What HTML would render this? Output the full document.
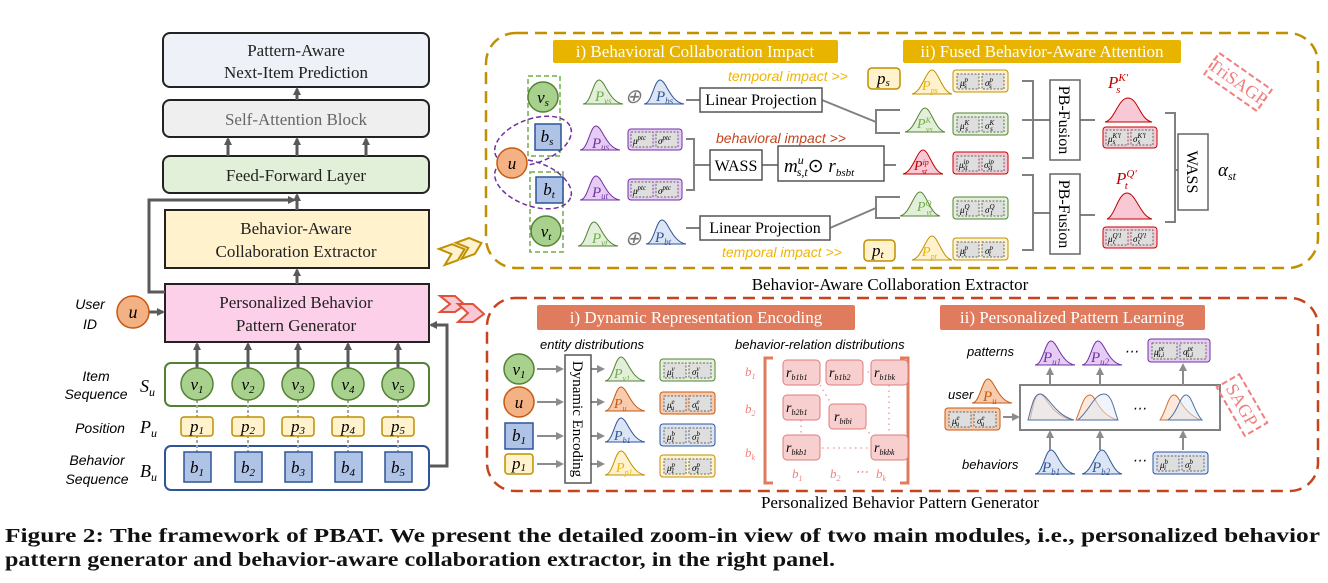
<!DOCTYPE html>
<html><head><meta charset="utf-8"><style>
html,body{margin:0;padding:0;background:#fff;}
svg{display:block;}
.s{font-family:"Liberation Serif",serif;}
.m{font-family:"Liberation Serif",serif;font-style:italic;}
.i{font-family:"Liberation Sans",sans-serif;font-style:italic;}
</style></head><body>
<svg width="1328" height="583" viewBox="0 0 1328 583" xmlns="http://www.w3.org/2000/svg">
<defs>
<marker id="ah" markerWidth="8" markerHeight="8" refX="6" refY="4" orient="auto" markerUnits="userSpaceOnUse"><path d="M0,0 L8,4 L0,8 Z" fill="#595959"/></marker>
<marker id="ag" markerWidth="8" markerHeight="8" refX="6" refY="4" orient="auto" markerUnits="userSpaceOnUse"><path d="M0,0 L8,4 L0,8 Z" fill="#8c8c8c"/></marker>
<path id="cv" d="M0,24 C8,24 10,0 16,0 C22,0 26,22 40,24 Z"/>
<path id="cw" d="M0,24 C10,22 14,0 20,0 C26,0 30,22 40,24 Z"/>
</defs>

<!-- ===== LEFT PANEL ===== -->
<g class="s" font-size="17" text-anchor="middle" fill="#222">
<rect x="163" y="33" width="266" height="54" rx="7" fill="#eef1f8" stroke="#222" stroke-width="2"/>
<text x="296" y="56">Pattern-Aware</text><text x="296" y="78">Next-Item Prediction</text>
<rect x="163" y="100" width="266" height="37" rx="7" fill="#efefef" stroke="#222" stroke-width="2"/>
<text x="296" y="125" fill="#666">Self-Attention Block</text>
<rect x="163" y="156" width="266" height="37" rx="7" fill="#e2f0d9" stroke="#222" stroke-width="2"/>
<text x="296" y="181">Feed-Forward Layer</text>
<rect x="165" y="210" width="264" height="58" fill="#fff2cc" stroke="#222" stroke-width="2"/>
<text x="296" y="234">Behavior-Aware</text><text x="296" y="257">Collaboration Extractor</text>
<rect x="165" y="284" width="264" height="58" fill="#fdd0ea" stroke="#222" stroke-width="2"/>
<text x="296" y="308">Personalized Behavior</text><text x="296" y="331">Pattern Generator</text>
</g>
<g stroke="#595959" stroke-width="3" fill="none" marker-end="url(#ah)">
<line x1="297" y1="100" x2="297" y2="89"/>
<line x1="228" y1="156" x2="228" y2="139"/><line x1="297" y1="156" x2="297" y2="139"/><line x1="366" y1="156" x2="366" y2="139"/>
<line x1="297" y1="210" x2="297" y2="195"/>
<line x1="297" y1="284" x2="297" y2="270"/>
<polyline points="165,292 149,292 149,200 294,200"/>
<line x1="149" y1="312" x2="163" y2="312"/>
<polyline points="429,466 447,466 447,325 431,325"/>
</g>
<text class="i" font-size="14" x="90" y="309" text-anchor="middle">User</text>
<text class="i" font-size="14" x="90" y="329" text-anchor="middle">ID</text>
<circle cx="133" cy="312" r="16" fill="#f4b183" stroke="#c55a11" stroke-width="1.5"/>
<text class="m" font-size="18" x="133" y="318" text-anchor="middle">u</text>

<text class="i" font-size="14" x="96" y="381" text-anchor="middle">Item</text>
<text class="i" font-size="14" x="96" y="399" text-anchor="middle">Sequence</text>
<text class="m" font-size="18" x="140" y="392">S<tspan font-size="12" dy="4">u</tspan></text>
<text class="i" font-size="14" x="100" y="433" text-anchor="middle">Position</text>
<text class="m" font-size="18" x="140" y="433">P<tspan font-size="12" dy="4">u</tspan></text>
<text class="i" font-size="14" x="97" y="465" text-anchor="middle">Behavior</text>
<text class="i" font-size="14" x="97" y="484" text-anchor="middle">Sequence</text>
<text class="m" font-size="18" x="140" y="477">B<tspan font-size="12" dy="4">u</tspan></text>

<rect x="165" y="363" width="264" height="43" rx="6" fill="#fff" stroke="#548235" stroke-width="2"/>
<rect x="165" y="446" width="264" height="44" rx="6" fill="#fff" stroke="#2f5597" stroke-width="2"/>
<g stroke="#595959" stroke-width="3" marker-end="url(#ah)">
<line x1="197" y1="368" x2="197" y2="344"/><line x1="248" y1="368" x2="248" y2="344"/><line x1="298" y1="368" x2="298" y2="344"/><line x1="348" y1="368" x2="348" y2="344"/><line x1="398" y1="368" x2="398" y2="344"/>
</g>
<g stroke="#a6a6a6" stroke-width="2" stroke-dasharray="3,2">
<line x1="197" y1="400" x2="197" y2="452"/><line x1="248" y1="400" x2="248" y2="452"/><line x1="298" y1="400" x2="298" y2="452"/><line x1="348" y1="400" x2="348" y2="452"/><line x1="398" y1="400" x2="398" y2="452"/>
</g>
<g class="m" font-size="17" text-anchor="middle">
<g fill="#a9d18e" stroke="#548235" stroke-width="1.5">
<circle cx="197" cy="384" r="16"/><circle cx="248" cy="384" r="16"/><circle cx="298" cy="384" r="16"/><circle cx="348" cy="384" r="16"/><circle cx="398" cy="384" r="16"/>
</g>
<text x="197" y="390">v<tspan font-size="11" dy="3">1</tspan></text><text x="248" y="390">v<tspan font-size="11" dy="3">2</tspan></text><text x="298" y="390">v<tspan font-size="11" dy="3">3</tspan></text><text x="348" y="390">v<tspan font-size="11" dy="3">4</tspan></text><text x="398" y="390">v<tspan font-size="11" dy="3">5</tspan></text>
<g fill="#fff2cc" stroke="#bf9000" stroke-width="1.5">
<rect x="181" y="417" width="32" height="19" rx="3"/><rect x="232" y="417" width="32" height="19" rx="3"/><rect x="282" y="417" width="32" height="19" rx="3"/><rect x="332" y="417" width="32" height="19" rx="3"/><rect x="382" y="417" width="32" height="19" rx="3"/>
</g>
<text x="197" y="432">p<tspan font-size="11" dy="2">1</tspan></text><text x="248" y="432">p<tspan font-size="11" dy="2">2</tspan></text><text x="298" y="432">p<tspan font-size="11" dy="2">3</tspan></text><text x="348" y="432">p<tspan font-size="11" dy="2">4</tspan></text><text x="398" y="432">p<tspan font-size="11" dy="2">5</tspan></text>
<g fill="#aec3e6" stroke="#2f5597" stroke-width="1.5">
<rect x="184" y="452" width="27" height="30"/><rect x="235" y="452" width="27" height="30"/><rect x="285" y="452" width="27" height="30"/><rect x="335" y="452" width="27" height="30"/><rect x="385" y="452" width="27" height="30"/>
</g>
<text x="197" y="473">b<tspan font-size="11" dy="3">1</tspan></text><text x="248" y="473">b<tspan font-size="11" dy="3">2</tspan></text><text x="298" y="473">b<tspan font-size="11" dy="3">3</tspan></text><text x="348" y="473">b<tspan font-size="11" dy="3">4</tspan></text><text x="398" y="473">b<tspan font-size="11" dy="3">5</tspan></text>
</g>

<!-- chevrons -->
<g fill="#fff2cc" stroke="#bf9000" stroke-width="2" transform="rotate(-20 462 248)">
<path d="M440,241 L454,241 L464,250 L454,258 L440,258 L450,250 Z"/>
<path d="M458,241 L472,241 L482,250 L472,258 L458,258 L468,250 Z"/>
</g>
<g fill="#f8c8d4" stroke="#e0523a" stroke-width="2">
<path d="M440,296 L455,296 L465,305 L455,312 L440,312 L450,304 Z"/>
<path d="M458,304 L473,304 L484,314 L473,322 L458,322 L468,313 Z"/>
</g>

<!-- ===== TOP RIGHT PANEL ===== -->
<rect x="486" y="33" width="832" height="235" rx="30" fill="none" stroke="#bf9000" stroke-width="2.5" stroke-dasharray="12,7"/>
<rect x="553" y="40" width="285" height="23" rx="2" fill="#e8b400"/>
<text class="s" font-size="17" fill="#fff" x="695" y="57" text-anchor="middle">i) Behavioral Collaboration Impact</text>
<rect x="903" y="40" width="278" height="23" rx="2" fill="#e8b400"/>
<text class="s" font-size="17" fill="#fff" x="1042" y="57" text-anchor="middle">ii) Fused Behavior-Aware Attention</text>
<text class="s" font-size="17" x="890" y="290" text-anchor="middle">Behavior-Aware Collaboration Extractor</text>

<rect x="528" y="76" width="32" height="80" fill="none" stroke="#70ad47" stroke-width="1.5" stroke-dasharray="5,3"/>
<rect x="530" y="172" width="33" height="80" fill="none" stroke="#70ad47" stroke-width="1.5" stroke-dasharray="5,3"/>
<ellipse cx="533" cy="141" rx="40" ry="22" transform="rotate(-20 533 141)" fill="none" stroke="#7030a0" stroke-width="1.5" stroke-dasharray="5,3"/>
<ellipse cx="533" cy="184" rx="40" ry="22" transform="rotate(20 533 184)" fill="none" stroke="#7030a0" stroke-width="1.5" stroke-dasharray="5,3"/>
<g class="m" font-size="17" text-anchor="middle">
<circle cx="543" cy="97" r="15" fill="#a9d18e" stroke="#548235" stroke-width="1.5"/><text x="543" y="103">v<tspan font-size="11" dy="3">s</tspan></text>
<rect x="535" y="124" width="26" height="26" fill="#aec3e6" stroke="#2f5597" stroke-width="1.5"/><text x="547" y="142">b<tspan font-size="11" dy="3">s</tspan></text>
<rect x="536" y="177" width="27" height="26" fill="#aec3e6" stroke="#2f5597" stroke-width="1.5"/><text x="549" y="195">b<tspan font-size="11" dy="3">t</tspan></text>
<circle cx="546" cy="231" r="15" fill="#a9d18e" stroke="#548235" stroke-width="1.5"/><text x="546" y="237">v<tspan font-size="11" dy="3">t</tspan></text>
<circle cx="512" cy="163" r="15" fill="#f4b183" stroke="#c55a11" stroke-width="1.5"/><text x="512" y="169">u</text>
</g>
<g class="m" font-size="15">
<use href="#cv" x="583" y="80" fill="#e2f0d9" stroke="#548235"/><text x="595" y="101" fill="#70ad47">P<tspan font-size="9" dy="3">vs</tspan></text>
<text x="633" y="103" class="s" font-size="20" fill="#777" text-anchor="middle">⊕</text>
<use href="#cv" x="644" y="80" fill="#dbe5f5" stroke="#2f5597"/><text x="656" y="101" fill="#2f5597">P<tspan font-size="9" dy="3">bs</tspan></text>
<use href="#cv" x="580" y="126" fill="#e6ccf5" stroke="#7030a0"/><text x="592" y="148" fill="#7030a0">P<tspan font-size="9" dy="2">us</tspan></text>
<use href="#cv" x="580" y="176" fill="#e6ccf5" stroke="#7030a0"/><text x="592" y="197" fill="#7030a0">P<tspan font-size="9" dy="2">ut</tspan></text>
<use href="#cv" x="578" y="222" fill="#e2f0d9" stroke="#548235"/><text x="592" y="243" fill="#70ad47">P<tspan font-size="9" dy="3">vt</tspan></text>
<text x="633" y="245" class="s" font-size="20" fill="#777" text-anchor="middle">⊕</text>
<use href="#cv" x="646" y="220" fill="#dbe5f5" stroke="#2f5597"/><text x="655" y="242" fill="#2f5597">P<tspan font-size="9" dy="3">bt</tspan></text>
</g>
<g font-size="9" class="m">
<g fill="#e6ccf5" stroke="#7030a0"><rect x="628" y="129" width="54" height="21" rx="3"/><rect x="628" y="179" width="54" height="21" rx="3"/></g>
<g fill="#dedede" stroke="#666" stroke-dasharray="2,1.5"><rect x="631" y="132" width="22" height="15"/><rect x="656" y="132" width="22" height="15"/><rect x="631" y="182" width="22" height="15"/><rect x="656" y="182" width="22" height="15"/></g>
<text x="633" y="144">μ<tspan font-size="7" dy="-4">ptc</tspan></text><text x="658" y="144">σ<tspan font-size="7" dy="-4">ptc</tspan></text>
<text x="633" y="194">μ<tspan font-size="7" dy="-4">ptc</tspan></text><text x="658" y="194">σ<tspan font-size="7" dy="-4">ptc</tspan></text>
</g>
<g stroke="#808080" stroke-width="2" fill="none">
<line x1="686" y1="100" x2="700" y2="100"/>
<polyline points="686,139 694,139 694,190 686,190"/><line x1="694" y1="165" x2="710" y2="165"/>
<line x1="762" y1="165" x2="778" y2="165"/><line x1="884" y1="165" x2="896" y2="165"/>
<line x1="686" y1="228" x2="700" y2="228"/>
<line x1="822" y1="100" x2="876" y2="122"/><polyline points="900,110 876,110 876,133 900,133"/>
<line x1="830" y1="228" x2="876" y2="208"/><polyline points="900,197 876,197 876,218 900,218"/>
</g>
<g stroke="#555" stroke-width="1.5" fill="#fff">
<rect x="700" y="88" width="122" height="24"/><rect x="700" y="216" width="130" height="24"/>
<rect x="710" y="150" width="52" height="30"/><rect x="778" y="146" width="106" height="35"/>
</g>
<g class="s" font-size="16" text-anchor="middle"><text x="761" y="105">Linear Projection</text><text x="765" y="233">Linear Projection</text><text x="736" y="171">WASS</text></g>
<text class="m" font-size="19" x="784" y="172">m<tspan font-size="12" dy="-8">u</tspan><tspan font-size="12" dx="-7" dy="12">s,t</tspan><tspan class="s" font-style="normal" dy="-4">⊙</tspan> r<tspan font-size="11" dy="4">bsbt</tspan></text>
<text class="i" font-size="14" fill="#f0b400" x="728" y="81">temporal impact &gt;&gt;</text>
<text class="i" font-size="14" fill="#c5441d" x="716" y="143">behavioral impact &gt;&gt;</text>
<text class="i" font-size="14" fill="#f0b400" x="722" y="257">temporal impact &gt;&gt;</text>
<rect x="868" y="68" width="32" height="21" rx="4" fill="#fff2cc" stroke="#bf9000" stroke-width="1.5"/>
<text class="m" font-size="17" x="877" y="84">p<tspan font-size="11" dy="2">s</tspan></text>
<rect x="864" y="240" width="31" height="21" rx="4" fill="#fff2cc" stroke="#bf9000" stroke-width="1.5"/>
<text class="m" font-size="17" x="872" y="256">p<tspan font-size="11" dy="2">t</tspan></text>

<g class="m" font-size="14">
<use href="#cw" x="912" y="70" fill="#fff2cc" stroke="#bf9000"/><text x="922" y="90" fill="#f0b400">P<tspan font-size="8" dy="3">ps</tspan></text>
<use href="#cw" x="905" y="108" fill="#e2f0d9" stroke="#548235"/><text x="917" y="128" fill="#70ad47">P<tspan font-size="8" dy="-5">K</tspan><tspan font-size="8" dx="-5" dy="9">vs</tspan></text>
<use href="#cw" x="903" y="150" fill="#f8c8d4" stroke="#c00000"/><text x="914" y="170" fill="#c00000">P<tspan font-size="8" dy="-5">ip</tspan><tspan font-size="8" dx="-7" dy="9">st</tspan></text>
<use href="#cw" x="900" y="192" fill="#e2f0d9" stroke="#548235"/><text x="917" y="211" fill="#70ad47">P<tspan font-size="8" dy="-5">Q</tspan><tspan font-size="8" dx="-5" dy="9">vt</tspan></text>
<use href="#cw" x="912" y="236" fill="#fff2cc" stroke="#bf9000"/><text x="922" y="256" fill="#f0b400">P<tspan font-size="8" dy="3">pt</tspan></text>
</g>
<g class="m" font-size="9">
<rect x="953" y="70" width="55" height="22" rx="3" fill="#fff2cc" stroke="#bf9000"/>
<rect x="953" y="113" width="55" height="22" rx="3" fill="#e2f0d9" stroke="#548235"/>
<rect x="953" y="152" width="55" height="22" rx="3" fill="#f8c8d4" stroke="#c00000"/>
<rect x="953" y="197" width="55" height="22" rx="3" fill="#e2f0d9" stroke="#548235"/>
<rect x="953" y="238" width="55" height="22" rx="3" fill="#fff2cc" stroke="#bf9000"/>
<rect x="1103" y="127" width="54" height="21" rx="3" fill="#f8c8d4" stroke="#c00000"/>
<rect x="1103" y="227" width="54" height="21" rx="3" fill="#f8c8d4" stroke="#c00000"/>
<g fill="#dedede" stroke="#666" stroke-dasharray="2,1.5">
<rect x="957" y="74" width="22" height="15"/><rect x="982" y="74" width="22" height="15"/>
<rect x="957" y="117" width="22" height="15"/><rect x="982" y="117" width="22" height="15"/>
<rect x="957" y="156" width="22" height="15"/><rect x="982" y="156" width="22" height="15"/>
<rect x="957" y="201" width="22" height="15"/><rect x="982" y="201" width="22" height="15"/>
<rect x="957" y="242" width="22" height="15"/><rect x="982" y="242" width="22" height="15"/>
<rect x="1106" y="130" width="22" height="15"/><rect x="1131" y="130" width="22" height="15"/>
<rect x="1106" y="230" width="22" height="15"/><rect x="1131" y="230" width="22" height="15"/>
</g>
<text x="960" y="86">μ<tspan font-size="7" dy="-4">p</tspan><tspan font-size="7" dx="-4" dy="6">s</tspan></text><text x="985" y="86">σ<tspan font-size="7" dy="-4">p</tspan><tspan font-size="7" dx="-4" dy="6">s</tspan></text>
<text x="960" y="129">μ<tspan font-size="7" dy="-4">K</tspan><tspan font-size="7" dx="-4" dy="6">s</tspan></text><text x="985" y="129">σ<tspan font-size="7" dy="-4">K</tspan><tspan font-size="7" dx="-4" dy="6">s</tspan></text>
<text x="959" y="168">μ<tspan font-size="7" dy="-4">ip</tspan><tspan font-size="7" dx="-6" dy="6">st</tspan></text><text x="984" y="168">σ<tspan font-size="7" dy="-4">ip</tspan><tspan font-size="7" dx="-6" dy="6">st</tspan></text>
<text x="960" y="213">μ<tspan font-size="7" dy="-4">Q</tspan><tspan font-size="7" dx="-4" dy="6">t</tspan></text><text x="985" y="213">σ<tspan font-size="7" dy="-4">Q</tspan><tspan font-size="7" dx="-4" dy="6">t</tspan></text>
<text x="960" y="254">μ<tspan font-size="7" dy="-4">p</tspan><tspan font-size="7" dx="-4" dy="6">t</tspan></text><text x="985" y="254">σ<tspan font-size="7" dy="-4">p</tspan><tspan font-size="7" dx="-4" dy="6">t</tspan></text>
<text x="1108" y="142">μ<tspan font-size="7" dy="-4">K'l</tspan><tspan font-size="7" dx="-8" dy="6">s</tspan></text><text x="1133" y="142">σ<tspan font-size="7" dy="-4">K'l</tspan><tspan font-size="7" dx="-8" dy="6">s</tspan></text>
<text x="1108" y="242">μ<tspan font-size="7" dy="-4">Q'l</tspan><tspan font-size="7" dx="-8" dy="6">t</tspan></text><text x="1133" y="242">σ<tspan font-size="7" dy="-4">Q'l</tspan><tspan font-size="7" dx="-8" dy="6">t</tspan></text>
</g>
<g stroke="#808080" stroke-width="2" fill="none">
<polyline points="1022,81 1033,81 1033,158 1022,158"/><line x1="1022" y1="120" x2="1050" y2="120"/>
<polyline points="1022,175 1033,175 1033,250 1022,250"/><line x1="1033" y1="213" x2="1050" y2="213"/>
<line x1="1080" y1="120" x2="1095" y2="120"/><line x1="1080" y1="215" x2="1095" y2="215"/>
<polyline points="1165,113 1175,113 1175,222 1165,222"/><line x1="1175" y1="170" x2="1178" y2="170"/>
</g>
<g stroke="#666" stroke-width="1.5" fill="#fff">
<rect x="1050" y="80" width="30" height="80"/><rect x="1050" y="174" width="30" height="80"/><rect x="1178" y="134" width="30" height="76"/>
</g>
<g class="s" font-size="16" text-anchor="middle">
<text transform="translate(1059,120) rotate(90)">PB-Fusion</text>
<text transform="translate(1059,214) rotate(90)">PB-Fusion</text>
<text transform="translate(1187,172) rotate(90)">WASS</text>
</g>
<g class="m" fill="#c00000">
<text x="1108" y="88" font-size="17">P<tspan font-size="11" dy="-7">K'</tspan><tspan font-size="11" dx="-12" dy="12">s</tspan></text>
<text x="1116" y="184" font-size="17">P<tspan font-size="11" dy="-7">Q'</tspan><tspan font-size="11" dx="-12" dy="12">t</tspan></text>
</g>
<path d="M1105,122 C1115,120 1118,98 1128,98 C1138,98 1140,120 1152,122 Z" fill="#f8c8d4" stroke="#c00000"/>
<path d="M1107,219 C1115,216 1118,193 1127,193 C1136,193 1140,216 1152,219 Z" fill="#f8c8d4" stroke="#c00000"/>
<text class="m" font-size="19" x="1218" y="176">α<tspan font-size="12" dy="4">st</tspan></text>
<g transform="translate(1238,82) rotate(35)">
<rect x="-32" y="-13" width="64" height="26" fill="none" stroke="#f08080" stroke-width="2" stroke-dasharray="6,3"/>
<text class="s" font-size="18" fill="#f08080" x="0" y="6" text-anchor="middle">TriSAGP</text>
</g>

<!-- ===== BOTTOM RIGHT PANEL ===== -->
<rect x="487" y="298" width="831" height="193" rx="28" fill="none" stroke="#c5441d" stroke-width="2.5" stroke-dasharray="12,7"/>
<rect x="537" y="305" width="318" height="25" rx="2" fill="#e07b5e"/>
<text class="s" font-size="17" fill="#fff" x="696" y="323" text-anchor="middle">i) Dynamic Representation Encoding</text>
<rect x="940" y="305" width="265" height="25" rx="2" fill="#e07b5e"/>
<text class="s" font-size="17" fill="#fff" x="1072" y="323" text-anchor="middle">ii) Personalized Pattern Learning</text>
<text class="s" font-size="17" x="900" y="508" text-anchor="middle">Personalized Behavior Pattern Generator</text>
<text class="i" font-size="13" x="540" y="349">entity distributions</text>
<text class="i" font-size="13" x="735" y="349">behavior-relation distributions</text>

<g class="m" font-size="17" text-anchor="middle">
<circle cx="519" cy="369" r="15" fill="#a9d18e" stroke="#548235" stroke-width="1.5"/><text x="519" y="375">v<tspan font-size="11" dy="3">1</tspan></text>
<circle cx="519" cy="402" r="15" fill="#f4b183" stroke="#c55a11" stroke-width="1.5"/><text x="519" y="408">u</text>
<rect x="505" y="423" width="28" height="26" fill="#aec3e6" stroke="#2f5597" stroke-width="1.5"/><text x="519" y="441">b<tspan font-size="11" dy="3">1</tspan></text>
<rect x="505" y="454" width="28" height="20" rx="3" fill="#fff2cc" stroke="#bf9000" stroke-width="1.5"/><text x="519" y="469">p<tspan font-size="11" dy="2">1</tspan></text>
</g>
<g stroke="#8c8c8c" stroke-width="2" marker-end="url(#ag)">
<line x1="537" y1="369" x2="562" y2="369"/><line x1="537" y1="402" x2="562" y2="402"/><line x1="537" y1="436" x2="562" y2="436"/><line x1="537" y1="464" x2="562" y2="464"/>
<line x1="591" y1="369" x2="603" y2="369"/><line x1="591" y1="402" x2="603" y2="402"/><line x1="591" y1="436" x2="603" y2="436"/><line x1="591" y1="464" x2="603" y2="464"/>
</g>
<rect x="565" y="355" width="26" height="128" fill="#fff" stroke="#555" stroke-width="1.5"/>
<text class="s" font-size="15" text-anchor="middle" transform="translate(573,419) rotate(90)">Dynamic Encoding</text>
<g class="m" font-size="14">
<use href="#cv" x="605" y="357" fill="#e2f0d9" stroke="#548235"/><text x="614" y="378" fill="#70ad47">P<tspan font-size="8" dy="3">v1</tspan></text>
<use href="#cv" x="605" y="387" fill="#f8cbad" stroke="#c55a11"/><text x="614" y="408" fill="#c55a11">P<tspan font-size="8" dy="3">u</tspan></text>
<use href="#cv" x="605" y="418" fill="#dbe5f5" stroke="#2f5597"/><text x="614" y="440" fill="#2f5597">P<tspan font-size="8" dy="3">b1</tspan></text>
<use href="#cv" x="605" y="451" fill="#fff2cc" stroke="#bf9000"/><text x="616" y="472" fill="#f0b400">P<tspan font-size="8" dy="3">p1</tspan></text>
</g>
<g class="m" font-size="9">
<rect x="660" y="359" width="55" height="22" rx="3" fill="#e2f0d9" stroke="#548235"/>
<rect x="660" y="392" width="55" height="22" rx="3" fill="#f8cbad" stroke="#c55a11"/>
<rect x="660" y="424" width="55" height="22" rx="3" fill="#dbe5f5" stroke="#2f5597"/>
<rect x="660" y="455" width="55" height="22" rx="3" fill="#fff2cc" stroke="#bf9000"/>
<rect x="945" y="408" width="55" height="22" rx="3" fill="#f8cbad" stroke="#c55a11"/>
<rect x="1148" y="339" width="62" height="23" rx="3" fill="#e6ccf5" stroke="#7030a0"/>
<rect x="1153" y="452" width="55" height="22" rx="3" fill="#dbe5f5" stroke="#2f5597"/>
<g fill="#dedede" stroke="#666" stroke-dasharray="2,1.5">
<rect x="664" y="363" width="22" height="15"/><rect x="689" y="363" width="22" height="15"/>
<rect x="664" y="396" width="22" height="15"/><rect x="689" y="396" width="22" height="15"/>
<rect x="664" y="428" width="22" height="15"/><rect x="689" y="428" width="22" height="15"/>
<rect x="664" y="459" width="22" height="15"/><rect x="689" y="459" width="22" height="15"/>
<rect x="949" y="412" width="22" height="15"/><rect x="974" y="412" width="22" height="15"/>
<rect x="1152" y="343" width="25" height="16"/><rect x="1180" y="343" width="26" height="16"/>
<rect x="1157" y="456" width="22" height="15"/><rect x="1182" y="456" width="22" height="15"/>
</g>
<text x="667" y="375">μ<tspan font-size="7" dy="-4">v</tspan><tspan font-size="7" dx="-4" dy="6">1</tspan></text><text x="692" y="375">σ<tspan font-size="7" dy="-4">v</tspan><tspan font-size="7" dx="-4" dy="6">1</tspan></text>
<text x="667" y="408">μ<tspan font-size="7" dy="-4">e</tspan><tspan font-size="7" dx="-4" dy="6">u</tspan></text><text x="692" y="408">σ<tspan font-size="7" dy="-4">e</tspan><tspan font-size="7" dx="-4" dy="6">u</tspan></text>
<text x="667" y="440">μ<tspan font-size="7" dy="-4">b</tspan><tspan font-size="7" dx="-4" dy="6">1</tspan></text><text x="692" y="440">σ<tspan font-size="7" dy="-4">b</tspan><tspan font-size="7" dx="-4" dy="6">1</tspan></text>
<text x="667" y="471">μ<tspan font-size="7" dy="-4">p</tspan><tspan font-size="7" dx="-4" dy="6">1</tspan></text><text x="692" y="471">σ<tspan font-size="7" dy="-4">p</tspan><tspan font-size="7" dx="-4" dy="6">1</tspan></text>
<text x="952" y="424">μ<tspan font-size="7" dy="-4">e</tspan><tspan font-size="7" dx="-4" dy="6">u</tspan></text><text x="977" y="424">σ<tspan font-size="7" dy="-4">e</tspan><tspan font-size="7" dx="-4" dy="6">u</tspan></text>
<text x="1154" y="355">μ<tspan font-size="7" dy="-4">pt</tspan><tspan font-size="7" dx="-7" dy="6">u,i</tspan></text><text x="1183" y="355">σ<tspan font-size="7" dy="-4">pt</tspan><tspan font-size="7" dx="-7" dy="6">u,i</tspan></text>
<text x="1160" y="468">μ<tspan font-size="7" dy="-4">b</tspan><tspan font-size="7" dx="-4" dy="6">i</tspan></text><text x="1185" y="468">σ<tspan font-size="7" dy="-4">b</tspan><tspan font-size="7" dx="-4" dy="6">i</tspan></text>
</g>

<!-- matrix -->
<g stroke="#e07b5e" stroke-width="3" fill="none">
<polyline points="773,358 765,358 765,483 773,483"/><polyline points="900,358 908,358 908,483 900,483"/>
</g>
<g stroke="#f4a0a0" stroke-width="1.5" stroke-dasharray="1.5,4" fill="none">
<line x1="862" y1="372" x2="872" y2="372"/><line x1="820" y1="385" x2="832" y2="405"/><line x1="865" y1="428" x2="875" y2="440"/>
<line x1="801" y1="420" x2="801" y2="435"/><line x1="889" y1="385" x2="889" y2="435"/><line x1="822" y1="448" x2="870" y2="448"/>
</g>
<g fill="#f8cfcf" stroke="#e07b7b" stroke-width="1">
<rect x="783" y="360" width="37" height="25" rx="4"/><rect x="826" y="360" width="37" height="25" rx="4"/><rect x="871" y="360" width="37" height="25" rx="4"/>
<rect x="783" y="395" width="37" height="25" rx="4"/><rect x="829" y="404" width="37" height="25" rx="4"/>
<rect x="783" y="435" width="37" height="25" rx="4"/><rect x="871" y="435" width="37" height="25" rx="4"/>
</g>
<g class="m" font-size="14">
<text x="786" y="377">r<tspan font-size="8" dy="3">b1b1</tspan></text><text x="829" y="377">r<tspan font-size="8" dy="3">b1b2</tspan></text><text x="874" y="377">r<tspan font-size="8" dy="3">b1bk</tspan></text>
<text x="786" y="412">r<tspan font-size="8" dy="3">b2b1</tspan></text><text x="834" y="421">r<tspan font-size="8" dy="3">bibi</tspan></text>
<text x="786" y="452">r<tspan font-size="8" dy="3">bkb1</tspan></text><text x="874" y="452">r<tspan font-size="8" dy="3">bkbk</tspan></text>
</g>
<g class="m" font-size="13" fill="#f08080">
<text x="745" y="376">b<tspan font-size="8" dy="3">1</tspan></text><text x="745" y="413">b<tspan font-size="8" dy="3">2</tspan></text><text x="745" y="457">b<tspan font-size="8" dy="3">k</tspan></text>
<text x="792" y="478">b<tspan font-size="8" dy="3">1</tspan></text><text x="830" y="478">b<tspan font-size="8" dy="3">2</tspan></text><text x="855" y="476">⋯</text><text x="876" y="478">b<tspan font-size="8" dy="3">k</tspan></text>
</g>

<!-- pattern learning -->
<text class="i" font-size="13" x="967" y="356">patterns</text>
<text class="i" font-size="13" x="948" y="399">user</text>
<text class="i" font-size="13" x="962" y="469">behaviors</text>
<g class="m" font-size="15">
<use href="#cv" x="1035" y="341" fill="#e6ccf5" stroke="#7030a0"/><text x="1043" y="362" fill="#7030a0">P<tspan font-size="9" dy="3">u1</tspan></text>
<use href="#cv" x="1082" y="341" fill="#e6ccf5" stroke="#7030a0"/><text x="1091" y="362" fill="#7030a0">P<tspan font-size="9" dy="3">u2</tspan></text>
<text x="1124" y="356" font-size="14">⋯</text>
<use href="#cv" x="972" y="379" fill="#f8cbad" stroke="#c55a11"/><text x="983" y="401" fill="#c55a11">P<tspan font-size="9" dy="3">u</tspan></text>
<use href="#cv" x="1035" y="450" fill="#dbe5f5" stroke="#2f5597"/><text x="1042" y="472" fill="#2f5597">P<tspan font-size="9" dy="3">b1</tspan></text>
<use href="#cw" x="1082" y="450" fill="#dbe5f5" stroke="#2f5597"/><text x="1092" y="472" fill="#2f5597">P<tspan font-size="9" dy="3">b2</tspan></text>
<text x="1132" y="465" font-size="14">⋯</text>
</g>
<rect x="1020" y="385" width="200" height="45" fill="#fff" stroke="#808080" stroke-width="2"/>
<g stroke="#8c8c8c" stroke-width="2" marker-end="url(#ag)">
<line x1="1003" y1="417" x2="1018" y2="417"/>
<line x1="1050" y1="385" x2="1050" y2="369"/><line x1="1100" y1="385" x2="1100" y2="369"/><line x1="1183" y1="385" x2="1183" y2="365"/>
<line x1="1050" y1="450" x2="1050" y2="432"/><line x1="1100" y1="450" x2="1100" y2="432"/><line x1="1183" y1="450" x2="1183" y2="432"/>
</g>
<g opacity="0.85">
<path d="M1030,420 C1034,400 1036,394 1040,394 C1046,394 1050,415 1072,420 Z" fill="#f8cbad" stroke="#c55a11" fill-opacity="0.5"/>
<path d="M1028,420 C1032,405 1034,394 1040,394 C1048,394 1054,415 1074,420 Z" fill="#dbe5f5" stroke="#2f5597" fill-opacity="0.5"/>
<path d="M1076,420 C1082,405 1084,395 1090,395 C1096,395 1098,415 1118,420 Z" fill="#f8cbad" stroke="#c55a11" fill-opacity="0.5"/>
<path d="M1078,420 C1090,410 1094,394 1104,394 C1112,394 1114,410 1118,420 Z" fill="#dbe5f5" stroke="#2f5597" fill-opacity="0.5"/>
<path d="M1160,420 C1166,412 1168,395 1174,395 C1180,395 1180,410 1200,420 Z" fill="#f8cbad" stroke="#c55a11" fill-opacity="0.5"/>
<path d="M1168,420 C1178,412 1180,395 1186,395 C1192,395 1194,412 1202,420 Z" fill="#dbe5f5" stroke="#2f5597" fill-opacity="0.5"/>
</g>
<text class="m" font-size="14" x="1132" y="413">⋯</text>
<g transform="translate(1242,405) rotate(60)">
<rect x="-28" y="-13" width="56" height="26" fill="none" stroke="#f08080" stroke-width="2" stroke-dasharray="6,3"/>
<text class="s" font-size="18" fill="#f08080" x="0" y="6" text-anchor="middle">SAGP</text>
</g>

<!-- caption -->
<g class="s" font-weight="bold" font-size="20" fill="#111">
<text x="5" y="542" textLength="1315" lengthAdjust="spacingAndGlyphs">Figure 2: The framework of PBAT. We present the detailed zoom-in view of two main modules, i.e., personalized behavior</text>
<text x="5" y="566" textLength="830" lengthAdjust="spacingAndGlyphs">pattern generator and behavior-aware collaboration extractor, in the right panel.</text>
</g>
</svg>
</body></html>
